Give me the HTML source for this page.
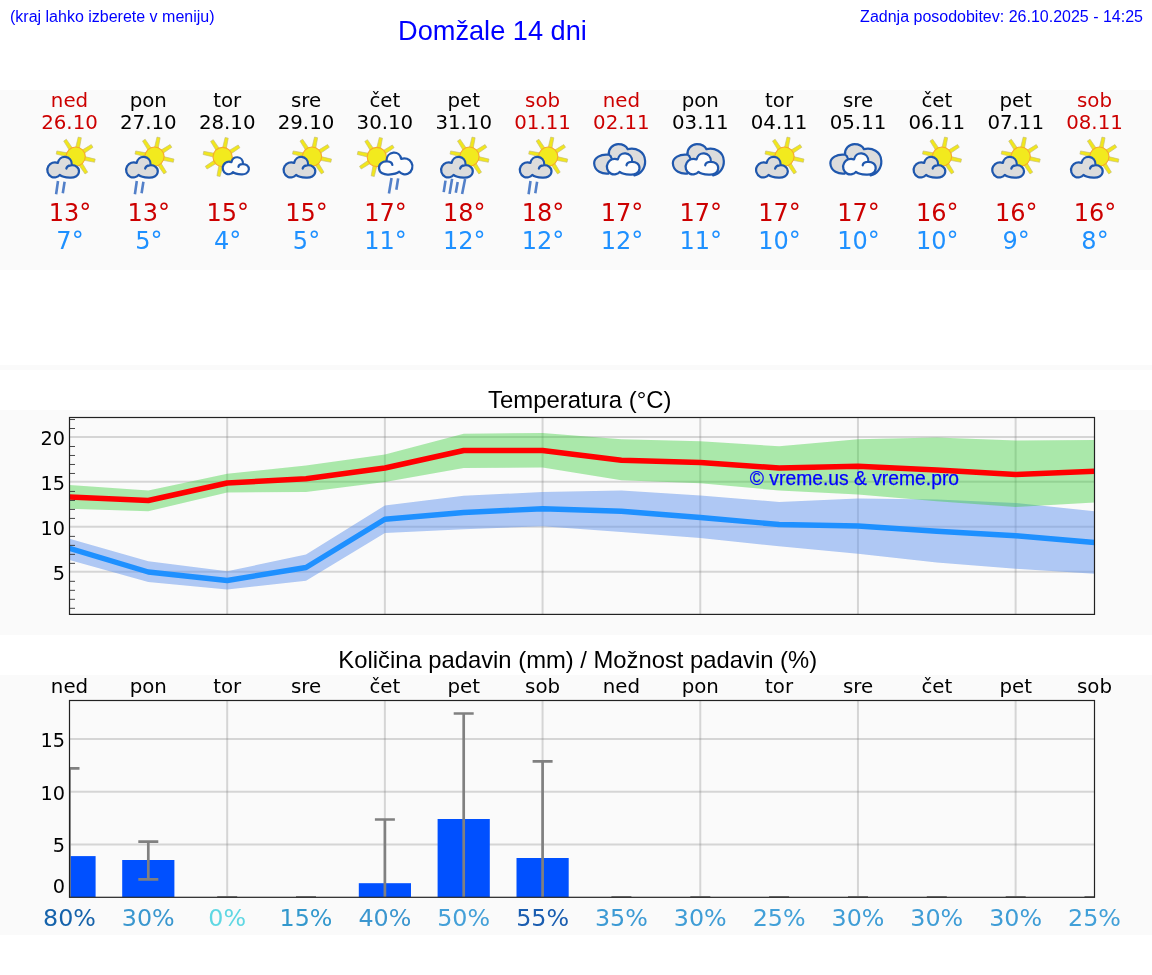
<!DOCTYPE html>
<html lang="sl"><head><meta charset="utf-8"><title>Domžale 14 dni</title>
<style>
html,body{margin:0;padding:0;background:#fff;}
body{width:1152px;height:975px;position:relative;overflow:hidden;font-family:"Liberation Sans",Arial,sans-serif;}
.h{position:absolute;color:#0000ff;white-space:nowrap;line-height:1;}
.t{position:absolute;color:#000;white-space:nowrap;line-height:1;font-size:23.9px;}
svg{position:absolute;left:0;top:0;}
.dv{font-family:"DejaVu Sans","Liberation Sans",sans-serif;}
.m{text-anchor:middle;}
.rn{stroke:#5380c9;stroke-width:2.6;fill:none;}
</style></head><body>
<svg width="1152" height="975" viewBox="0 0 1152 975">
<defs>
<g id="ray"><path d="M9 -1.9L19.6 -1.6V1.6L9 1.9Z" fill="#f1e71c" stroke="#c4bd78" stroke-width="0.6"/></g>
<g id="sun">
<use href="#ray" transform="rotate(-78)"/><use href="#ray" transform="rotate(-33)"/><use href="#ray" transform="rotate(12)"/><use href="#ray" transform="rotate(57)"/>
<use href="#ray" transform="rotate(102)"/><use href="#ray" transform="rotate(147)"/><use href="#ray" transform="rotate(192)"/><use href="#ray" transform="rotate(237)"/>
<circle r="9.6" fill="#f2ea1e" stroke="#f6aa2c" stroke-width="1.1"/>
</g>
<path id="cl" d="M414 522C418 498 442 480 474 478C540 470 590 510 585 565C580 625 520 650 460 645C400 642 350 630 325 608C300 640 250 650 215 635C160 610 140 540 170 490C195 445 250 425 300 445C310 395 350 360 400 365C450 370 490 410 488 470" stroke="#1f57ad" stroke-linecap="round" stroke-linejoin="round"/>
<g id="bk" transform="scale(0.07386) translate(-493.1 -365.6)">
<path d="M330 590C250 600 140 560 135 450C135 380 220 320 335 335C320 260 390 190 460 190C520 190 570 215 590 260C700 235 820 290 825 420C830 520 760 600 680 615L500 480Z" fill="#dcdcdc"/>
<path d="M330 590C250 600 140 560 135 450C135 380 220 320 335 335C350 340 365 360 372 385M335 335C320 260 390 190 460 190C520 190 570 215 590 260C700 235 820 290 825 420C830 520 760 600 680 615" fill="none" stroke="#1f57ad" stroke-width="30" stroke-linecap="round" stroke-linejoin="round"/>
</g>
<path id="rain2" d="M0 0L-1.9 13.3M6.6 0.7L4.8 12.2" class="rn"/>
<path id="rain4" d="M0 0L-1.8 11.5M6.6 -1.8L4.1 13.3M12.2 1.5L10.3 12.2M19.6 -1.5L16.6 13.3" class="rn"/>
<g id="sc"><use href="#sun" x="6.4" y="-0.4"/><use href="#cl" transform="translate(-6.2 10.3) scale(0.07386) translate(-370 -505)" fill="#dcdcdc" stroke-width="30"/></g>
<g id="sr2"><use href="#sc"/><use href="#rain2" x="-11.3" y="24"/></g>
<g id="sr4"><use href="#sc"/><use href="#rain4" x="-17.6" y="23.6"/></g>
<g id="sw"><use href="#sun" x="-4.2" y="0"/><use href="#cl" transform="translate(8.95 8.8) scale(0.061) translate(-370 -505)" fill="#fcfcfc" stroke-width="36"/></g>
<g id="swr"><use href="#sun" x="-7.5" y="0"/><use href="#cl" transform="translate(11.45 6.6) scale(-0.078 0.078) translate(-370 -505)" fill="#fcfcfc" stroke-width="29"/><path d="M7.25 21L4.65 36.5M13.85 21.4L12.05 32.8" class="rn"/></g>
<g id="cc"><use href="#bk"/><use href="#cl" transform="translate(2.55 7) scale(0.076) translate(-370 -505)" fill="#fcfcfc" stroke-width="29"/></g>

</defs>
<rect x="0" y="90" width="1152" height="180" fill="#fafafa"/>
<rect x="0" y="365" width="1152" height="5" fill="#fafafa"/>
<rect x="0" y="410" width="1152" height="225" fill="#fafafa"/>
<rect x="0" y="675" width="1152" height="260" fill="#fafafa"/>
<g class="dv m" font-size="19.8">
<text x="69.5" y="106.9" fill="#cc0000">ned</text>
<text x="69.5" y="128.6" fill="#cc0000">26.10</text>
<text x="148.3" y="106.9" fill="#000">pon</text>
<text x="148.3" y="128.6" fill="#000">27.10</text>
<text x="227.2" y="106.9" fill="#000">tor</text>
<text x="227.2" y="128.6" fill="#000">28.10</text>
<text x="306.0" y="106.9" fill="#000">sre</text>
<text x="306.0" y="128.6" fill="#000">29.10</text>
<text x="384.9" y="106.9" fill="#000">čet</text>
<text x="384.9" y="128.6" fill="#000">30.10</text>
<text x="463.7" y="106.9" fill="#000">pet</text>
<text x="463.7" y="128.6" fill="#000">31.10</text>
<text x="542.6" y="106.9" fill="#cc0000">sob</text>
<text x="542.6" y="128.6" fill="#cc0000">01.11</text>
<text x="621.4" y="106.9" fill="#cc0000">ned</text>
<text x="621.4" y="128.6" fill="#cc0000">02.11</text>
<text x="700.3" y="106.9" fill="#000">pon</text>
<text x="700.3" y="128.6" fill="#000">03.11</text>
<text x="779.1" y="106.9" fill="#000">tor</text>
<text x="779.1" y="128.6" fill="#000">04.11</text>
<text x="858.0" y="106.9" fill="#000">sre</text>
<text x="858.0" y="128.6" fill="#000">05.11</text>
<text x="936.8" y="106.9" fill="#000">čet</text>
<text x="936.8" y="128.6" fill="#000">06.11</text>
<text x="1015.7" y="106.9" fill="#000">pet</text>
<text x="1015.7" y="128.6" fill="#000">07.11</text>
<text x="1094.5" y="106.9" fill="#cc0000">sob</text>
<text x="1094.5" y="128.6" fill="#cc0000">08.11</text>
</g>
<use href="#sr2" x="69.3" y="157"/>
<use href="#sr2" x="148.1" y="157"/>
<use href="#sw" x="226.8" y="157"/>
<use href="#sc" x="305.6" y="157"/>
<use href="#swr" x="384.3" y="157"/>
<use href="#sr4" x="463.1" y="157"/>
<use href="#sr2" x="541.8" y="157"/>
<use href="#cc" x="620.6" y="157"/>
<use href="#cc" x="699.3" y="157"/>
<use href="#sc" x="778.1" y="157"/>
<use href="#cc" x="856.8" y="157"/>
<use href="#sc" x="935.6" y="157"/>
<use href="#sc" x="1014.3" y="157"/>
<use href="#sc" x="1093.0" y="157"/>
<g class="dv m" font-size="24">
<text x="70.0" y="221" fill="#cc0000">13°</text>
<text x="70.0" y="248.8" fill="#1e90ff">7°</text>
<text x="148.8" y="221" fill="#cc0000">13°</text>
<text x="148.8" y="248.8" fill="#1e90ff">5°</text>
<text x="227.7" y="221" fill="#cc0000">15°</text>
<text x="227.7" y="248.8" fill="#1e90ff">4°</text>
<text x="306.5" y="221" fill="#cc0000">15°</text>
<text x="306.5" y="248.8" fill="#1e90ff">5°</text>
<text x="385.4" y="221" fill="#cc0000">17°</text>
<text x="385.4" y="248.8" fill="#1e90ff">11°</text>
<text x="464.2" y="221" fill="#cc0000">18°</text>
<text x="464.2" y="248.8" fill="#1e90ff">12°</text>
<text x="543.1" y="221" fill="#cc0000">18°</text>
<text x="543.1" y="248.8" fill="#1e90ff">12°</text>
<text x="621.9" y="221" fill="#cc0000">17°</text>
<text x="621.9" y="248.8" fill="#1e90ff">12°</text>
<text x="700.8" y="221" fill="#cc0000">17°</text>
<text x="700.8" y="248.8" fill="#1e90ff">11°</text>
<text x="779.6" y="221" fill="#cc0000">17°</text>
<text x="779.6" y="248.8" fill="#1e90ff">10°</text>
<text x="858.5" y="221" fill="#cc0000">17°</text>
<text x="858.5" y="248.8" fill="#1e90ff">10°</text>
<text x="937.3" y="221" fill="#cc0000">16°</text>
<text x="937.3" y="248.8" fill="#1e90ff">10°</text>
<text x="1016.2" y="221" fill="#cc0000">16°</text>
<text x="1016.2" y="248.8" fill="#1e90ff">9°</text>
<text x="1095.0" y="221" fill="#cc0000">16°</text>
<text x="1095.0" y="248.8" fill="#1e90ff">8°</text>
</g>
<g id="temp">
<clipPath id="ct"><rect x="69.5" y="417.5" width="1025.0" height="196.89999999999998"/></clipPath>
<g stroke="#808080" stroke-opacity="0.3" stroke-width="2">
<line x1="69.5" x2="1094.5" y1="571.75" y2="571.75"/>
<line x1="69.5" x2="1094.5" y1="526.80" y2="526.80"/>
<line x1="69.5" x2="1094.5" y1="481.85" y2="481.85"/>
<line x1="69.5" x2="1094.5" y1="436.90" y2="436.90"/>
<line x1="227.19" x2="227.19" y1="417.5" y2="614.4"/>
<line x1="384.88" x2="384.88" y1="417.5" y2="614.4"/>
<line x1="542.58" x2="542.58" y1="417.5" y2="614.4"/>
<line x1="700.27" x2="700.27" y1="417.5" y2="614.4"/>
<line x1="857.96" x2="857.96" y1="417.5" y2="614.4"/>
<line x1="1015.65" x2="1015.65" y1="417.5" y2="614.4"/>
</g>
<g clip-path="url(#ct)">
<polygon points="69.5,538.75 148.3,561.25 227.2,571.25 306.0,554.5 384.9,505.5 463.7,495.75 542.6,492 621.4,490.5 700.3,495.5 779.1,502 858.0,498.5 936.8,499.5 1015.7,503 1094.5,511.25 1094.5,573.75 1015.7,568.75 936.8,562.5 858.0,553.75 779.1,546.25 700.3,538 621.4,532 542.6,526.25 463.7,529.25 384.9,533 306.0,580.75 227.2,589.5 148.3,582 69.5,560" fill="#6495ed" fill-opacity="0.5"/>
<polygon points="69.5,485 148.3,490.5 227.2,473.75 306.0,465.5 384.9,454.5 463.7,433.75 542.6,433 621.4,439.25 700.3,441.25 779.1,446.25 858.0,439.25 936.8,437.5 1015.7,440.5 1094.5,440 1094.5,502.5 1015.7,507 936.8,501.25 858.0,494.5 779.1,490.5 700.3,483.25 621.4,480.25 542.6,467.5 463.7,468 384.9,482 306.0,492 227.2,492.5 148.3,511.25 69.5,508.75" fill="#32cd32" fill-opacity="0.4"/>
<polyline points="69.5,497 148.3,500.5 227.2,483 306.0,478.75 384.9,468 463.7,450.5 542.6,450.5 621.4,460.25 700.3,462.5 779.1,468 858.0,466.25 936.8,470 1015.7,474.5 1094.5,471.25" fill="none" stroke="#ff0000" stroke-width="5.4" stroke-linejoin="round"/>
<polyline points="69.5,548.25 148.3,572 227.2,580.5 306.0,567.5 384.9,519.25 463.7,512.5 542.6,508.75 621.4,511.25 700.3,517.5 779.1,524.5 858.0,526 936.8,531.25 1015.7,535.75 1094.5,542.5" fill="none" stroke="#1e90ff" stroke-width="5.4" stroke-linejoin="round"/>
</g>
<g stroke="#333" stroke-width="0.9">
<line x1="69.5" x2="75.0" y1="608.31" y2="608.31"/>
<line x1="69.5" x2="75.0" y1="599.32" y2="599.32"/>
<line x1="69.5" x2="75.0" y1="590.33" y2="590.33"/>
<line x1="69.5" x2="75.0" y1="581.34" y2="581.34"/>
<line x1="69.5" x2="75.0" y1="563.36" y2="563.36"/>
<line x1="69.5" x2="75.0" y1="554.37" y2="554.37"/>
<line x1="69.5" x2="75.0" y1="545.38" y2="545.38"/>
<line x1="69.5" x2="75.0" y1="536.39" y2="536.39"/>
<line x1="69.5" x2="75.0" y1="518.41" y2="518.41"/>
<line x1="69.5" x2="75.0" y1="509.42" y2="509.42"/>
<line x1="69.5" x2="75.0" y1="500.43" y2="500.43"/>
<line x1="69.5" x2="75.0" y1="491.44" y2="491.44"/>
<line x1="69.5" x2="75.0" y1="473.46" y2="473.46"/>
<line x1="69.5" x2="75.0" y1="464.47" y2="464.47"/>
<line x1="69.5" x2="75.0" y1="455.48" y2="455.48"/>
<line x1="69.5" x2="75.0" y1="446.49" y2="446.49"/>
<line x1="69.5" x2="75.0" y1="428.51" y2="428.51"/>
<line x1="69.5" x2="75.0" y1="419.52" y2="419.52"/>
</g>
<rect x="69.5" y="417.5" width="1025.0" height="196.89999999999998" fill="none" stroke="#222" stroke-width="1.2"/>
<g class="dv" font-size="19.3" text-anchor="end" fill="#000">
<text x="65" y="580.0">5</text>
<text x="65" y="535.1">10</text>
<text x="65" y="490.2">15</text>
<text x="65" y="445.2">20</text>
</g>
<text x="749.8" y="484.7" font-family="'Liberation Sans',Arial,sans-serif" font-size="19.3" fill="#0000ff" stroke="#0000ff" stroke-width="0.25">© vreme.us &amp; vreme.pro</text>
</g>
<g id="prec">
<clipPath id="cp"><rect x="69.5" y="700.5" width="1025.0" height="196.79999999999995"/></clipPath>
<g class="dv m" font-size="19.8" fill="#000">
<text x="69.5" y="692.6">ned</text>
<text x="148.3" y="692.6">pon</text>
<text x="227.2" y="692.6">tor</text>
<text x="306.0" y="692.6">sre</text>
<text x="384.9" y="692.6">čet</text>
<text x="463.7" y="692.6">pet</text>
<text x="542.6" y="692.6">sob</text>
<text x="621.4" y="692.6">ned</text>
<text x="700.3" y="692.6">pon</text>
<text x="779.1" y="692.6">tor</text>
<text x="858.0" y="692.6">sre</text>
<text x="936.8" y="692.6">čet</text>
<text x="1015.7" y="692.6">pet</text>
<text x="1094.5" y="692.6">sob</text>
</g>
<g stroke="#808080" stroke-opacity="0.3" stroke-width="2">
<line x1="69.5" x2="1094.5" y1="844.50" y2="844.50"/>
<line x1="69.5" x2="1094.5" y1="791.70" y2="791.70"/>
<line x1="69.5" x2="1094.5" y1="738.90" y2="738.90"/>
<line x1="227.19" x2="227.19" y1="700.5" y2="897.3"/>
<line x1="384.88" x2="384.88" y1="700.5" y2="897.3"/>
<line x1="542.58" x2="542.58" y1="700.5" y2="897.3"/>
<line x1="700.27" x2="700.27" y1="700.5" y2="897.3"/>
<line x1="857.96" x2="857.96" y1="700.5" y2="897.3"/>
<line x1="1015.65" x2="1015.65" y1="700.5" y2="897.3"/>
</g>
<g clip-path="url(#cp)">
<rect x="43.4" y="856.1" width="52.2" height="41.2" fill="#0050ff"/>
<rect x="122.2" y="860" width="52.2" height="37.3" fill="#0050ff"/>
<rect x="358.8" y="883.2" width="52.2" height="14.1" fill="#0050ff"/>
<rect x="437.6" y="819" width="52.2" height="78.3" fill="#0050ff"/>
<rect x="516.5" y="858" width="52.2" height="39.3" fill="#0050ff"/>
<g stroke="#808080" stroke-width="2.7" fill="none">
<path d="M69.5 768.3V897.3M59.5 768.3h20"/>
<path d="M148.3 841.7V879.4M138.3 841.7h20M138.3 879.4h20"/>
<path d="M217.2 896.6999999999999h20" stroke-width="1.6"/>
<path d="M296.0 896.6999999999999h20" stroke-width="1.6"/>
<path d="M384.9 819.5V897.3M374.9 819.5h20"/>
<path d="M463.7 713.5V897.3M453.7 713.5h20"/>
<path d="M542.6 761.4V897.3M532.6 761.4h20"/>
<path d="M611.4 896.6999999999999h20" stroke-width="1.6"/>
<path d="M690.3 896.6999999999999h20" stroke-width="1.6"/>
<path d="M769.1 896.6999999999999h20" stroke-width="1.6"/>
<path d="M848.0 896.6999999999999h20" stroke-width="1.6"/>
<path d="M926.8 896.6999999999999h20" stroke-width="1.6"/>
<path d="M1005.7 896.6999999999999h20" stroke-width="1.6"/>
<path d="M1084.5 896.6999999999999h20" stroke-width="1.6"/>
</g>
</g>
<rect x="69.5" y="700.5" width="1025.0" height="196.79999999999995" fill="none" stroke="#222" stroke-width="1.2"/>
<g class="dv" font-size="19.3" text-anchor="end" fill="#000">
<text x="65" y="746.9">15</text>
<text x="65" y="800.3">10</text>
<text x="65" y="852.4">5</text>
<text x="65" y="893.1">0</text>
</g>
<g class="dv m" font-size="23.8">
<text x="69.5" y="926.4" fill="#1663ab">80%</text>
<text x="148.3" y="926.4" fill="#3a97cf">30%</text>
<text x="227.2" y="926.4" fill="#5fd7e3">0%</text>
<text x="306.0" y="926.4" fill="#3398cd">15%</text>
<text x="384.9" y="926.4" fill="#3b96cf">40%</text>
<text x="463.7" y="926.4" fill="#44a0d8">50%</text>
<text x="542.6" y="926.4" fill="#1a5db0">55%</text>
<text x="621.4" y="926.4" fill="#3c9ad4">35%</text>
<text x="700.3" y="926.4" fill="#3f9dd6">30%</text>
<text x="779.1" y="926.4" fill="#42a0d8">25%</text>
<text x="858.0" y="926.4" fill="#3f9dd6">30%</text>
<text x="936.8" y="926.4" fill="#3f9dd6">30%</text>
<text x="1015.7" y="926.4" fill="#3f9dd6">30%</text>
<text x="1094.5" y="926.4" fill="#42a0d8">25%</text>
</g>
</g>
</svg>
<div class="h" style="left:10px;top:8.7px;font-size:16px;">(kraj lahko izberete v meniju)</div>
<div class="h" style="right:9px;top:8.7px;font-size:16px;">Zadnja posodobitev: 26.10.2025 - 14:25</div>
<div class="h" style="left:398px;top:17.2px;font-size:27.2px;">Domžale 14 dni</div>
<div class="t" style="left:488px;top:387.8px;">Temperatura (°C)</div>
<div class="t" style="left:338.3px;top:647.9px;font-size:23.8px;">Količina padavin (mm) / Možnost padavin (%)</div>
</body></html>
